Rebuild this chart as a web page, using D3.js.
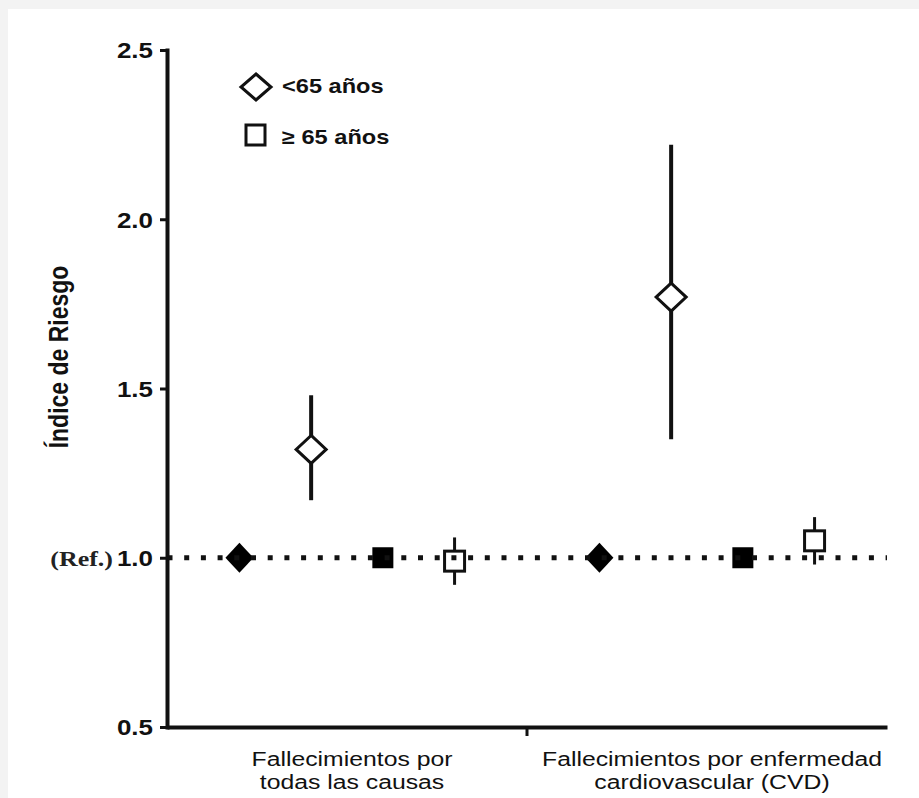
<!DOCTYPE html>
<html>
<head>
<meta charset="utf-8">
<script src="https://cdn.jsdelivr.net/npm/d3@7"></script>
<style>
  body { margin: 0; background: #f3f3f3; }
  svg { display: block; }
</style>
</head>
<body>
<div id="chart"></div>
<script>
// Datos del grafico
// =================
var categorias = ["todas", "cvd"];
var etiquetas = [
  ["Fallecimientos por", "todas las causas"],
  ["Fallecimientos por enfermedad", "cardiovascular (CVD)"]
];
var series = ["refJoven", "joven", "refMayor", "mayor"];

// <65 años (referencia y estimacion con IC)
var refJoven = [1.0, 1.0];
var joven = [1.32, 1.77];
var jovenInf = [1.17, 1.35];
var jovenSup = [1.48, 2.22];

// >=65 años
var refMayor = [1.0, 1.0];
var mayor = [0.99, 1.05];
var mayorInf = [0.92, 0.98];
var mayorSup = [1.06, 1.12];

var ticksY = [0.5, 1.0, 1.5, 2.0, 2.5];
var leyenda = ["<65 años", "\u2265 65 años"];

// Dimensiones
// ===========
var W = 919, H = 798;
var margin = { top: 50, right: 32, bottom: 71, left: 167 },
  width = W - margin.left - margin.right,
  height = H - margin.top - margin.bottom;
var sx = 1.18; // el texto original esta estirado en horizontal

var root = d3.select("#chart").append("svg")
  .attr("width", W).attr("height", H);

// panel blanco
root.append("rect")
  .attr("x", 8).attr("y", 9)
  .attr("width", W - 8).attr("height", H - 9)
  .attr("fill", "#fff");

var svg = root.append("g")
  .attr("transform", "translate(" + margin.left + "," + margin.top + ")");

// Escalas
// =======
var y = d3.scaleLinear().domain([0.5, 2.5]).range([height, 0]);
var x = d3.scaleBand().domain(categorias).range([0, width]).padding(0);
var xs = d3.scalePoint().domain(series).range([0, x.bandwidth()]).padding(1.01);

var fuente = "'Liberation Sans', Arial, sans-serif";

// Eje Y
// =====
var ejeY = svg.append("g")
  .call(d3.axisLeft(y).tickValues(ticksY).tickSize(7).tickSizeOuter(0)
    .tickFormat(d3.format(".1f")));
ejeY.select(".domain").attr("stroke", "#111").attr("stroke-width", 4)
  .attr("stroke-linecap", "square");
ejeY.selectAll(".tick line").attr("stroke", "#111").attr("stroke-width", 3);
ejeY.selectAll(".tick text")
  .attr("x", 0).attr("dy", "0.36em")
  .attr("transform", "translate(-14,0) scale(" + sx + ",1)")
  .attr("fill", "#111")
  .style("font-family", fuente).style("font-weight", "bold").style("font-size", "22px");

// (Ref.) junto al 1.0
svg.append("text")
  .attr("transform", "translate(-54," + y(1.0) + ") scale(" + sx + ",1)")
  .attr("dy", "0.36em")
  .attr("text-anchor", "end")
  .attr("fill", "#222")
  .style("font-family", "'Liberation Serif', 'Times New Roman', serif")
  .style("font-weight", "bold").style("font-size", "22px")
  .text("(Ref.)");

// titulo eje Y
svg.append("text")
  .attr("transform", "translate(" + (68 - margin.left) + "," + (357 - margin.top) + ") scale(" + sx + ",1) rotate(-90)")
  .attr("text-anchor", "middle")
  .attr("fill", "#111")
  .style("font-family", fuente).style("font-weight", "bold").style("font-size", "23px")
  .text("Índice de Riesgo");

// Eje X
// =====
var ejeX = svg.append("g")
  .attr("transform", "translate(0," + height + ")")
  .call(d3.axisBottom(x).tickSize(0).tickSizeOuter(0).tickFormat(""));
ejeX.select(".domain").attr("stroke", "#111").attr("stroke-width", 4);
ejeX.append("line")
  .attr("x1", x(categorias[1])).attr("x2", x(categorias[1]))
  .attr("y1", 0).attr("y2", 9)
  .attr("stroke", "#111").attr("stroke-width", 3);

// etiquetas de categoria
categorias.forEach(function(c, i) {
  var t = svg.append("text")
    .attr("transform", "translate(" + (x(c) + x.bandwidth() / 2 + 5) + "," + (height + 39) + ") scale(" + sx + ",1)")
    .attr("text-anchor", "middle")
    .attr("fill", "#111")
    .style("font-family", fuente).style("font-size", "21px");
  etiquetas[i].forEach(function(l, j) {
    t.append("tspan").attr("x", 0).attr("dy", j === 0 ? 0 : 23).text(l);
  });
});

// Marcadores
// ==========
function rombo(w, h) {
  return "M0," + (-h) + "L" + w + ",0L0," + h + "L" + (-w) + ",0Z";
}

var filas = categorias.map(function(c, i) {
  return { cat: c, refJoven: refJoven[i], joven: joven[i], jInf: jovenInf[i], jSup: jovenSup[i],
    refMayor: refMayor[i], mayor: mayor[i], mInf: mayorInf[i], mSup: mayorSup[i] };
});

var g = svg.selectAll(".grupo").data(filas).enter().append("g")
  .attr("class", "grupo")
  .attr("transform", function(d) { return "translate(" + x(d.cat) + ",0)"; });

// intervalos de confianza
g.append("line")
  .attr("x1", xs("joven")).attr("x2", xs("joven"))
  .attr("y1", function(d) { return y(d.jSup); })
  .attr("y2", function(d) { return y(d.jInf); })
  .attr("stroke", "#111").attr("stroke-width", 4);
g.append("line")
  .attr("x1", xs("mayor")).attr("x2", xs("mayor"))
  .attr("y1", function(d) { return y(d.mSup); })
  .attr("y2", function(d) { return y(d.mInf); })
  .attr("stroke", "#111").attr("stroke-width", 3);

// rombo relleno (referencia <65)
g.append("path")
  .attr("d", rombo(14, 15))
  .attr("transform", function(d) { return "translate(" + xs("refJoven") + "," + y(d.refJoven) + ")"; })
  .attr("fill", "#000");

// rombo vacio
g.append("path")
  .attr("d", rombo(15, 14))
  .attr("transform", function(d) { return "translate(" + xs("joven") + "," + y(d.joven) + ")"; })
  .attr("fill", "#fff").attr("stroke", "#111").attr("stroke-width", 3);

// cuadrado relleno (referencia >=65)
g.append("rect")
  .attr("x", xs("refMayor") - 10.5)
  .attr("y", function(d) { return y(d.refMayor) - 10.5; })
  .attr("width", 21).attr("height", 21)
  .attr("fill", "#000");

// cuadrado vacio
g.append("rect")
  .attr("x", xs("mayor") - 10)
  .attr("y", function(d) { return y(d.mayor) - 10; })
  .attr("width", 20).attr("height", 20)
  .attr("fill", "#fff").attr("stroke", "#111").attr("stroke-width", 3);

// linea de referencia punteada
svg.append("line")
  .attr("x1", 0).attr("x2", width)
  .attr("y1", y(1.0)).attr("y2", y(1.0))
  .attr("stroke", "#111").attr("stroke-width", 5)
  .attr("stroke-dasharray", "5,11.7")
  .attr("stroke-dashoffset", -0.5);

// Leyenda
// =======
var ley = root.append("g");
ley.append("path")
  .attr("d", rombo(15, 13))
  .attr("transform", "translate(256,87)")
  .attr("fill", "#fff").attr("stroke", "#111").attr("stroke-width", 3);
ley.append("rect")
  .attr("x", 246).attr("y", 125).attr("width", 19).attr("height", 20)
  .attr("fill", "#fff").attr("stroke", "#111").attr("stroke-width", 3);
leyenda.forEach(function(t, i) {
  ley.append("text")
    .attr("transform", "translate(282," + (93 + i * 51) + ") scale(" + sx + ",1)")
    .attr("fill", "#111")
    .style("font-family", fuente).style("font-weight", "bold").style("font-size", "20px")
    .text(t);
});
</script>
</body>
</html>
